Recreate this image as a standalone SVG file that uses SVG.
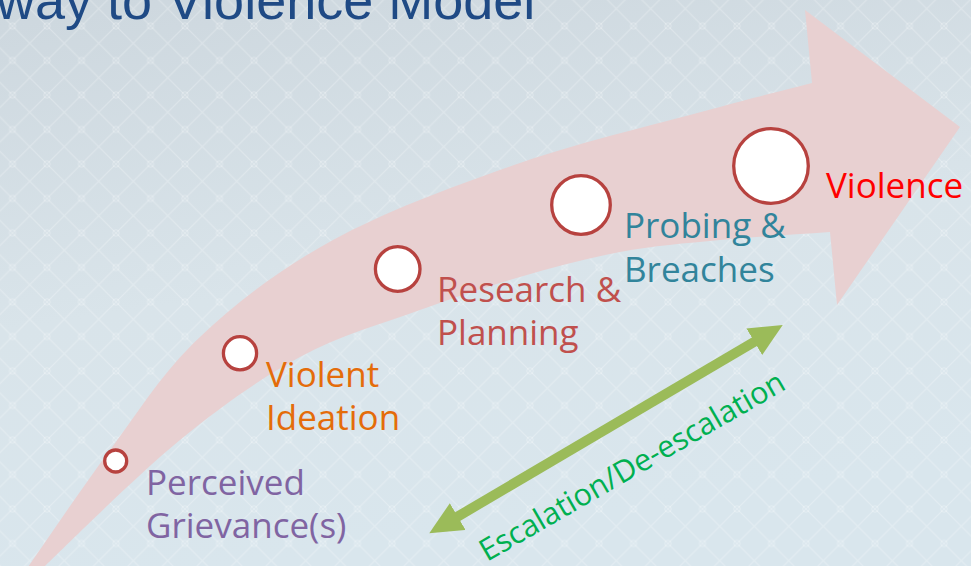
<svg xmlns="http://www.w3.org/2000/svg" width="971" height="566" viewBox="0 0 971 566">
  <defs>
    <linearGradient id="bg" x1="0" y1="0" x2="0.25" y2="1">
      <stop offset="0" stop-color="#cdd7de"/>
      <stop offset="0.55" stop-color="#d9e4ea"/>
      <stop offset="1" stop-color="#d9e6ed"/>
    </linearGradient>
    <pattern id="lat" width="34.5" height="34.5" patternUnits="userSpaceOnUse" x="12.5" y="26">
      <path d="M0,0 L34.5,34.5 M34.5,0 L0,34.5" stroke="#ffffff" stroke-opacity="0.27" stroke-width="1.1" fill="none"/>
      <g fill="none" stroke="#ffffff" stroke-opacity="0.3" stroke-width="0.9">
        <circle cx="0" cy="0" r="3.2"/>
        <circle cx="34.5" cy="0" r="3.2"/>
        <circle cx="0" cy="34.5" r="3.2"/>
        <circle cx="34.5" cy="34.5" r="3.2"/>
      </g>
    </pattern>
    <marker id="gHead" markerUnits="userSpaceOnUse" markerWidth="34" markerHeight="32" viewBox="0 0 34 32" refX="8" refY="15.5" orient="auto-start-reverse">
      <path d="M0,0 L33,15.5 L0,31 Z" fill="#9bbb59"/>
    </marker>
    <style>
      .lbl { font-family: "Open Sans", "Noto Sans", "Liberation Sans", sans-serif; font-size: 35px; }
      .stage { fill: #ffffff; stroke: #b7423f; stroke-width: 3.3; }
    </style>
  </defs>

  <rect x="0" y="0" width="971" height="566" fill="url(#bg)"/>
  <rect x="0" y="0" width="971" height="566" fill="url(#lat)"/>

  <text x="-4" y="18.5" font-family="'Liberation Sans', Arial, sans-serif" font-size="54" fill="#1f4a85">way to Violence Model</text>

  <g id="pathway-arrow">
    <path fill="#e8d0d1" d="M12,590 C44.7,543.3 78.7,492.2 110,450 C141.3,407.8 162.8,372 200,337 C237.2,302 279.7,269 333,240 C386.3,211 455.5,185.2 520,163 C584.5,140.8 671.3,120.3 720,107 C768.7,93.7 781.3,91 812,83 L805,10 L960,127 L837,305 L830,232 C793.3,234.7 755,236.7 720,240 C685,243.3 653.3,245.8 620,252 C586.7,258.2 553.3,267.3 520,277 C486.7,286.7 456.7,296.7 420,310 C383.3,323.3 340,335.3 300,357 C260,378.7 222.5,405.2 180,440 C137.5,474.8 71.3,540.7 45,566 L22,592 Z"/>
  </g>

  <g id="node-grievance">
    <circle class="stage" cx="115.7" cy="461" r="11"/>
    <text class="lbl" fill="#8064a2"><tspan x="146" y="495">Perceived</tspan><tspan x="146" y="537.5">Grievance(s)</tspan></text>
  </g>
  <g id="node-ideation">
    <circle class="stage" cx="240" cy="353.3" r="16.6"/>
    <text class="lbl" fill="#e46c0a"><tspan x="266" y="387">Violent</tspan><tspan x="266" y="430">Ideation</tspan></text>
  </g>
  <g id="node-research">
    <circle class="stage" cx="397.7" cy="269" r="22.3"/>
    <text class="lbl" fill="#c0504d"><tspan x="437" y="301.7">Research &amp;</tspan><tspan x="437" y="345">Planning</tspan></text>
  </g>
  <g id="node-probing">
    <circle class="stage" cx="581" cy="205" r="29.3"/>
    <text class="lbl" fill="#31849b"><tspan x="624" y="238.3">Probing &amp;</tspan><tspan x="624" y="281.7">Breaches</tspan></text>
  </g>
  <g id="node-violence">
    <circle class="stage" cx="771" cy="166" r="37.3"/>
    <text class="lbl" x="826" y="198.3" fill="#ff0000">Violence</text>
  </g>

  <g id="connectors">
    <path d="M450.8,520.6 L761.2,337.7" stroke="#9bbb59" stroke-width="10" fill="none" marker-start="url(#gHead)" marker-end="url(#gHead)"/>
    <text class="lbl" x="487" y="562" fill="#00b050" transform="rotate(-30 487 562)" style="font-size:30.5px">Escalation/De-escalation</text>
  </g>
</svg>
